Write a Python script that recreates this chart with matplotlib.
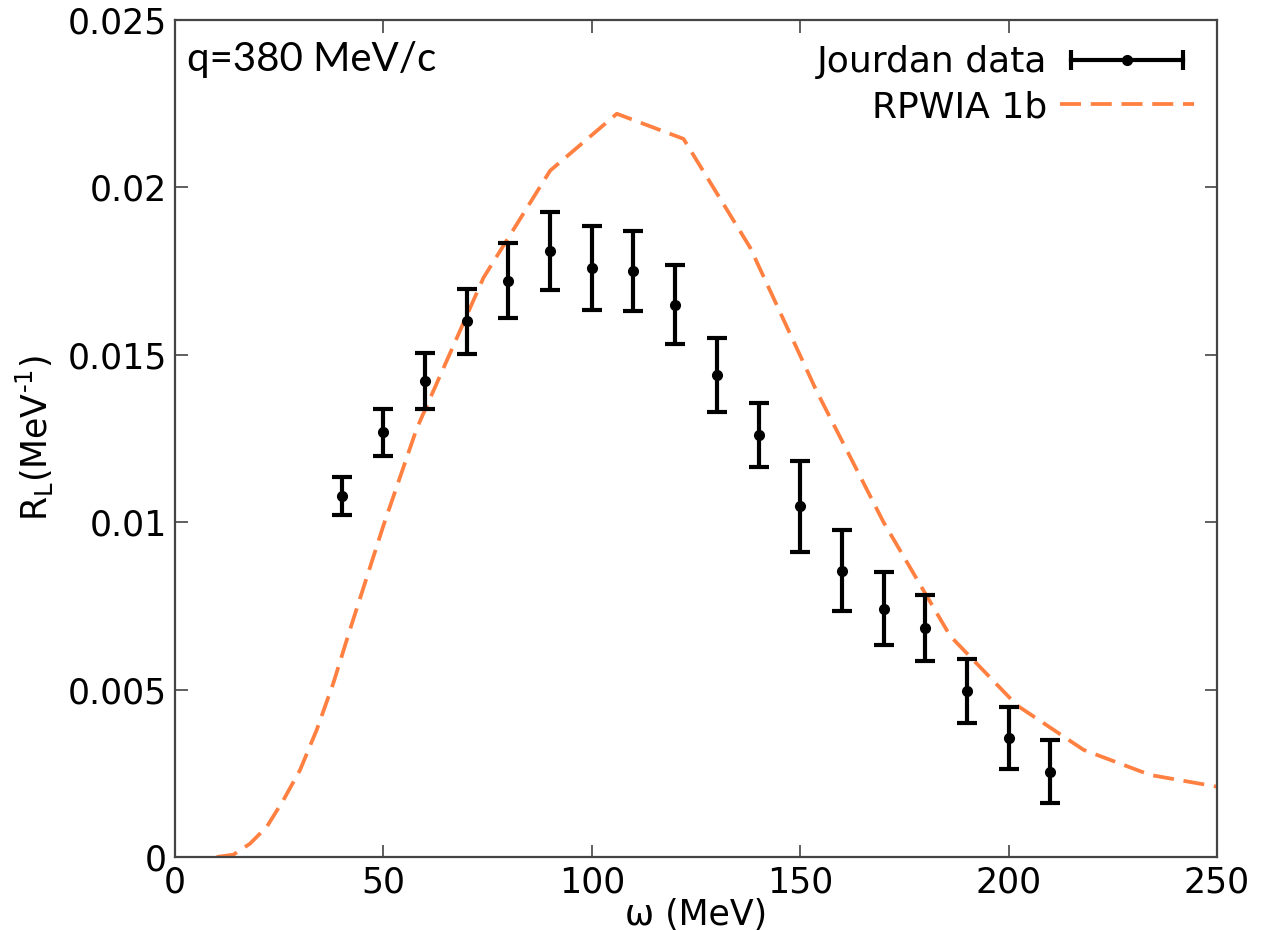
import matplotlib
matplotlib.use("Agg")
import matplotlib.pyplot as plt
from matplotlib.lines import Line2D
from matplotlib.legend_handler import HandlerLine2D, HandlerTuple
from matplotlib.ticker import FuncFormatter

# Data (Jourdan)
omega_data = [40, 50, 60, 70, 80, 90, 100, 110, 120, 130, 140, 150, 160, 170, 180, 190, 200, 210]
rl_data = [0.01078, 0.01268, 0.01421, 0.0160, 0.01721, 0.01811, 0.01759, 0.0175, 0.0165,
           0.0144, 0.0126, 0.01047, 0.00855, 0.00742, 0.00684, 0.00495, 0.00356, 0.00255]
rl_err = [0.00057, 0.0007, 0.00084, 0.00098, 0.00112, 0.00117, 0.00126, 0.00119, 0.00118,
          0.0011, 0.00095, 0.00136, 0.00121, 0.0011, 0.00098, 0.00096, 0.00092, 0.00095]

# RPWIA 1b curve
omega_th = [10, 14, 18, 22, 26, 30, 34, 38, 42, 50, 58, 74, 90, 106, 122, 138, 154, 170,
            186, 202, 218, 234, 250]
rl_th = [0.0, 0.00007, 0.0004, 0.0009, 0.0017, 0.0026, 0.0038, 0.0052, 0.0068, 0.0099, 0.0128,
         0.0173, 0.0205, 0.0222, 0.02145, 0.0182, 0.0139, 0.0100, 0.0066, 0.00453, 0.0032,
         0.00245, 0.0021]

x_ticks = [0, 50, 100, 150, 200, 250]
y_ticks = [0, 0.005, 0.01, 0.015, 0.02, 0.025]

ORANGE = '#ff8040'
SPINE = '#444444'

fig = plt.figure(figsize=(12.62, 9.30), dpi=100)
ax = fig.add_axes([0.1387, 0.0785, 0.8256, 0.9000])

th_line, = ax.plot(omega_th, rl_th, color=ORANGE, lw=2.7, dashes=(5.6, 2.6), zorder=2)
eb = ax.errorbar(omega_data, rl_data, yerr=rl_err, fmt='o', color='black', ms=7,
                 elinewidth=3.0, capsize=7, capthick=3.0, zorder=3)

ax.set_xlim(0, 250)
ax.set_ylim(0, 0.025)
ax.set_xticks(x_ticks)
ax.set_yticks(y_ticks)
ax.yaxis.set_major_formatter(FuncFormatter(lambda v, p: '%g' % v))
ax.tick_params(direction='in', length=9, width=1.2, color=SPINE, labelsize=25,
               top=True, right=True, pad=6)
for s in ax.spines.values():
    s.set_linewidth(1.6)
    s.set_color(SPINE)

ax.set_xlabel('ω (MeV)', fontsize=25, labelpad=-1)
ax.set_ylabel('R$_\\mathregular{L}$(MeV$^\\mathregular{\u20101}$)', fontsize=25, labelpad=8)

ax.text(0.011, 0.975, 'q=380 MeV/c', transform=ax.transAxes, fontsize=29,
        family='Lato', ha='left', va='top')

# legend handle: horizontal errorbar style
h_line = Line2D([], [], color='black', lw=3.0, marker='|', ms=14, mew=3.0)
h_dot = Line2D([], [], color='black', lw=0, marker='o', ms=7)
leg = ax.legend([(h_line, h_dot), th_line], ['Jourdan data', 'RPWIA 1b'],
                handler_map={h_line: HandlerLine2D(numpoints=2),
                             h_dot: HandlerLine2D(numpoints=1),
                             tuple: HandlerTuple(ndivide=1, pad=0)},
                loc='upper right', frameon=False, markerfirst=False, fontsize=26,
                handlelength=3.7, handletextpad=0.35, labelspacing=0.3,
                borderaxespad=0.3, bbox_to_anchor=(1.002, 1.0))

fig.savefig('out.png', dpi=100)
